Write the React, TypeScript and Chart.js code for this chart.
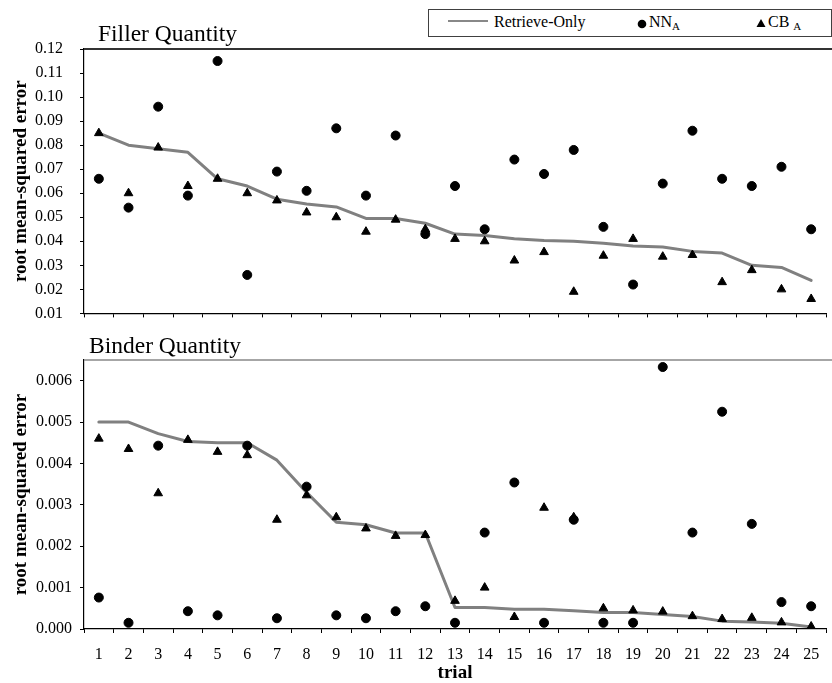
import React, { useEffect, useRef } from "react";
import { Chart, registerables } from "chart.js";

Chart.register(...registerables);

const FONT = "'Liberation Serif', 'Times New Roman', serif";
Chart.defaults.font.family = FONT;
Chart.defaults.color = "#000";

const trials = ["1","2","3","4","5","6","7","8","9","10","11","12","13","14","15","16","17","18","19","20","21","22","23","24","25"];

const fillerRetrieve = [0.085, 0.080, 0.0785, 0.077, 0.066, 0.063, 0.0575, 0.0555, 0.0543, 0.0495, 0.0495, 0.0475, 0.043, 0.0424, 0.0411, 0.0403, 0.040, 0.0392, 0.038, 0.0376, 0.0358, 0.0351, 0.030, 0.0291, 0.0237];
const fillerNN = [0.066, 0.054, 0.096, 0.059, 0.115, 0.026, 0.069, 0.061, 0.087, 0.059, 0.084, 0.043, 0.063, 0.045, 0.074, 0.068, 0.078, 0.046, 0.022, 0.064, 0.086, 0.066, 0.063, 0.071, 0.045];
const fillerCB = [0.085, 0.060, 0.079, 0.063, 0.066, 0.060, 0.057, 0.052, 0.050, 0.044, 0.049, 0.045, 0.041, 0.040, 0.032, 0.0355, 0.019, 0.034, 0.041, 0.0336, 0.0343, 0.023, 0.028, 0.020, 0.016];

const binderRetrieve = [0.0050, 0.0050, 0.00472, 0.00453, 0.0045, 0.0045, 0.00408, 0.0033, 0.00258, 0.00252, 0.00232, 0.00232, 0.00052, 0.00052, 0.00048, 0.00048, 0.00044, 0.0004, 0.0004, 0.00035, 0.0003, 0.00019, 0.00017, 0.00014, 0.00005];
const binderNN = [0.00076, 0.00015, 0.00443, 0.00043, 0.00033, 0.00443, 0.00026, 0.00344, 0.00033, 0.00026, 0.00043, 0.00055, 0.00015, 0.00233, 0.00354, 0.00015, 0.00264, 0.00015, 0.00015, 0.00633, 0.00233, 0.00525, 0.00254, 0.00065, 0.00055];
const binderCB = [0.0046, 0.00435, 0.00328, 0.00457, 0.00428, 0.0042, 0.00264, 0.00323, 0.0027, 0.00243, 0.00225, 0.00227, 0.00068, 0.001, 0.00029, 0.00293, 0.0027, 0.0005, 0.00045, 0.00042, 0.00031, 0.00024, 0.00027, 0.00016, 0.00006];

const panelDecor = {
  id: "panelDecor",
  afterDraw(chart: any, _args: any, opts: any) {
    const { ctx, chartArea } = chart;
    ctx.save();
    ctx.strokeStyle = opts.frameColor;
    ctx.lineWidth = opts.frameWidth;
    ctx.beginPath();
    ctx.moveTo(chartArea.left, chartArea.top);
    ctx.lineTo(chart.width, chartArea.top);
    ctx.stroke();
    ctx.fillStyle = "#000";
    ctx.font = `${opts.size}px ${FONT}`;
    ctx.textBaseline = "alphabetic";
    ctx.textAlign = "left";
    ctx.fillText(opts.text, chartArea.left + opts.dx, chartArea.top - opts.dy);
    ctx.restore();
  },
};

type PanelProps = {
  width: number;
  height: number;
  title: string;
  titleDx: number;
  titleDy: number;
  frameColor: string;
  frameWidth: number;
  padTop: number;
  xHeight: number;
  showX: boolean;
  ret: number[];
  nn: number[];
  cb: number[];
  yMin: number;
  yMax: number;
  yStep: number;
  yDigits: number;
  yLabelPad: number;
};

function Panel(p: PanelProps) {
  const ref = useRef<HTMLCanvasElement>(null);
  useEffect(() => {
    if (!ref.current) return;
    const chart = new Chart(ref.current, {
      type: "line",
      data: {
        labels: trials,
        datasets: [
          {
            label: "NN_A",
            data: p.nn,
            showLine: false,
            pointStyle: "circle",
            pointRadius: 4.5,
            pointBorderWidth: 1,
            pointBackgroundColor: "#000",
            pointBorderColor: "#000",
            borderColor: "#000",
            backgroundColor: "#000",
          },
          {
            label: "CB_A",
            data: p.cb,
            showLine: false,
            pointStyle: "triangle",
            pointRadius: 5,
            pointBorderWidth: 1,
            pointBackgroundColor: "#000",
            pointBorderColor: "#000",
            borderColor: "#000",
            backgroundColor: "#000",
          },
          {
            label: "Retrieve-Only",
            data: p.ret,
            borderColor: "#808080",
            borderWidth: 3,
            pointRadius: 0,
            tension: 0,
            fill: false,
            borderJoinStyle: "round",
            borderCapStyle: "round",
          },
        ],
      } as any,
      options: {
        responsive: false,
        animation: false,
        events: [],
        layout: { padding: { top: p.padTop, right: 3, left: 0, bottom: 0 } },
        plugins: {
          legend: { display: false },
          tooltip: { enabled: false },
          panelDecor: {
            text: p.title,
            dx: p.titleDx,
            dy: p.titleDy,
            size: 23.5,
            frameColor: p.frameColor,
            frameWidth: p.frameWidth,
          },
        } as any,
        scales: {
          x: {
            type: "category",
            offset: true,
            grid: { offset: true, drawOnChartArea: false, drawTicks: true, tickLength: 4, color: "#000" },
            border: { display: true, color: "#000", width: 1.2 },
            ticks: { display: p.showX, padding: 12, font: { size: 16 }, color: "#000", maxRotation: 0, autoSkip: false },
            title: {
              display: p.showX,
              text: "trial",
              font: { size: 19, weight: "bold", lineHeight: 1 },
              padding: { top: 0, bottom: 0 },
              color: "#000",
            },
            afterFit: (s: any) => {
              s.height = p.xHeight;
            },
          },
          y: {
            min: p.yMin,
            max: p.yMax,
            grid: { drawOnChartArea: false, drawTicks: true, tickLength: 4, color: "#000" },
            border: { display: true, color: "#000", width: 1.2 },
            ticks: {
              stepSize: p.yStep,
              includeBounds: false,
              padding: p.yLabelPad,
              font: { size: 16 },
              color: "#000",
              callback: (v: any) => Number(v).toFixed(p.yDigits),
            },
            title: {
              display: true,
              text: "root mean-squared error",
              font: { size: 19, weight: "bold", lineHeight: 1.2 },
              padding: { top: 10, bottom: 0 },
              color: "#000",
            },
            afterFit: (s: any) => {
              s.width = 84;
            },
          },
        },
      } as any,
      plugins: [panelDecor],
    });
    return () => chart.destroy();
  }, []);
  return <canvas ref={ref} width={p.width} height={p.height} style={{ display: "block" }} />;
}

function Legend() {
  const text: React.CSSProperties = {
    position: "absolute",
    top: -1,
    lineHeight: "26px",
    fontSize: 16,
    fontFamily: FONT,
    whiteSpace: "nowrap",
    color: "#000",
  };
  const sub: React.CSSProperties = { fontSize: 11, verticalAlign: "-3px", lineHeight: 0 };
  return (
    <div
      style={{
        position: "absolute",
        left: 428,
        top: 9,
        width: 402,
        height: 26,
        border: "1px solid #404040",
        background: "#fff",
      }}
    >
      <div style={{ position: "absolute", left: 19, top: 10, width: 40, height: 0, borderTop: "2px solid #888" }} />
      <span style={{ ...text, left: 65 }}>Retrieve-Only</span>
      <svg style={{ position: "absolute", left: 208, top: 9 }} width={10} height={10}>
        <circle cx={5} cy={5} r={4.3} fill="#000" />
      </svg>
      <span style={{ ...text, left: 220 }}>
        NN<sub style={sub}>A</sub>
      </span>
      <svg style={{ position: "absolute", left: 327, top: 8 }} width={10} height={10}>
        <polygon points="5,1 9.5,9 0.5,9" fill="#000" />
      </svg>
      <span style={{ ...text, left: 339 }}>
        CB <sub style={sub}>A</sub>
      </span>
    </div>
  );
}

export default function App() {
  return (
    <div
      style={{
        position: "absolute",
        left: 0,
        top: 0,
        width: 832,
        height: 683,
        overflow: "hidden",
        background: "#fff",
      }}
    >
      <div style={{ position: "absolute", left: 0, top: 0 }}>
        <Panel
          width={832}
          height={340}
          title="Filler Quantity"
          titleDx={14}
          titleDy={8}
          frameColor="#333"
          frameWidth={2}
          padTop={49}
          xHeight={21}
          showX={false}
          ret={fillerRetrieve}
          nn={fillerNN}
          cb={fillerCB}
          yMin={0.01}
          yMax={0.12}
          yStep={0.01}
          yDigits={2}
          yLabelPad={17}
        />
      </div>
      <div style={{ position: "absolute", left: 0, top: 328 }}>
        <Panel
          width={832}
          height={355}
          title="Binder Quantity"
          titleDx={5}
          titleDy={7}
          frameColor="#888"
          frameWidth={1.5}
          padTop={32}
          xHeight={54}
          showX={true}
          ret={binderRetrieve}
          nn={binderNN}
          cb={binderCB}
          yMin={0}
          yMax={0.0065}
          yStep={0.001}
          yDigits={3}
          yLabelPad={8}
        />
      </div>
      <Legend />
    </div>
  );
}
